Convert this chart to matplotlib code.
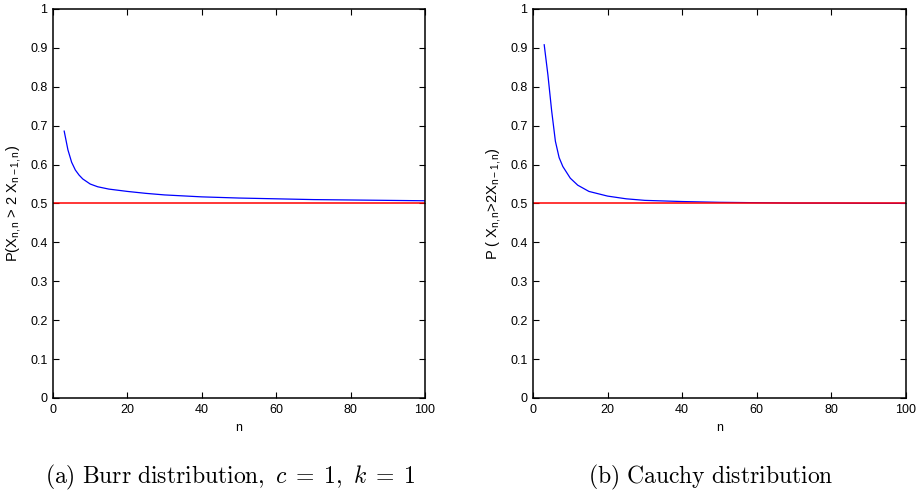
import matplotlib
matplotlib.use("Agg")
import matplotlib.pyplot as plt

plt.rcParams['font.family'] = ['Liberation Sans', 'DejaVu Sans']
plt.rcParams['mathtext.fontset'] = 'custom'
plt.rcParams['mathtext.rm'] = 'Liberation Sans'
plt.rcParams['mathtext.it'] = 'Liberation Sans'

# values
n_vals = [3, 4, 5, 6, 7, 8, 10, 12, 15, 20, 25, 30, 40, 50, 60, 70, 80, 90, 100]
burr = [0.686, 0.638, 0.606, 0.586, 0.573, 0.563, 0.550, 0.543, 0.537, 0.531,
        0.526, 0.522, 0.517, 0.514, 0.512, 0.510, 0.509, 0.508, 0.507]
cauchy = [0.908, 0.830, 0.738, 0.660, 0.618, 0.595, 0.565, 0.547, 0.531, 0.519,
          0.512, 0.508, 0.505, 0.503, 0.502, 0.501, 0.501, 0.5005, 0.5003]
ref_level = 0.5
ylabels = [r'P(X$_{n,n}$ > 2 X$_{n-1,n}$)', r'P ( X$_{n,n}$>2X$_{n-1,n}$)']
captions = [r'$\mathrm{(a)\ Burr\ distribution,}\ c\;=\;1,\ k\;=\;1$',
            r'$\mathrm{(b)\ Cauchy\ distribution}$']
yticks = [0, 0.1, 0.2, 0.3, 0.4, 0.5, 0.6, 0.7, 0.8, 0.9, 1]
ytick_labels = ['0', '0.1', '0.2', '0.3', '0.4', '0.5', '0.6', '0.7', '0.8', '0.9', '1']

fig = plt.figure(figsize=(9.16, 4.96), dpi=100)
ax1 = fig.add_axes([0.0579, 0.1976, 0.406, 0.7843])
ax2 = fig.add_axes([0.5819, 0.1976, 0.407, 0.7843])

for ax, ys, lab in [(ax1, burr, ylabels[0]), (ax2, cauchy, ylabels[1])]:
    ax.plot(n_vals, ys, color='#0000ff', lw=0.9)
    ax.plot([0, 100], [ref_level, ref_level], color='#ff0000', lw=1.1)
    ax.set_xlim(0, 100)
    ax.set_ylim(0, 1)
    ax.set_xticks([0, 20, 40, 60, 80, 100])
    ax.set_yticks(yticks)
    ax.set_yticklabels(ytick_labels)
    ax.tick_params(direction='in', top=True, right=True, labelsize=9,
                   length=4, width=0.8, pad=4)
    for s in ax.spines.values():
        s.set_linewidth(1.1)
    ax.set_xlabel('n', fontsize=9, labelpad=5)
    ax.set_ylabel(lab, fontsize=10.5, labelpad=5)

fig.text(0.251, 0.038, captions[0], fontsize=17, ha='center', va='center',
         math_fontfamily='cm')
fig.text(0.776, 0.038, captions[1], fontsize=17, ha='center', va='center',
         math_fontfamily='cm')

fig.savefig('out.png', dpi=100)
